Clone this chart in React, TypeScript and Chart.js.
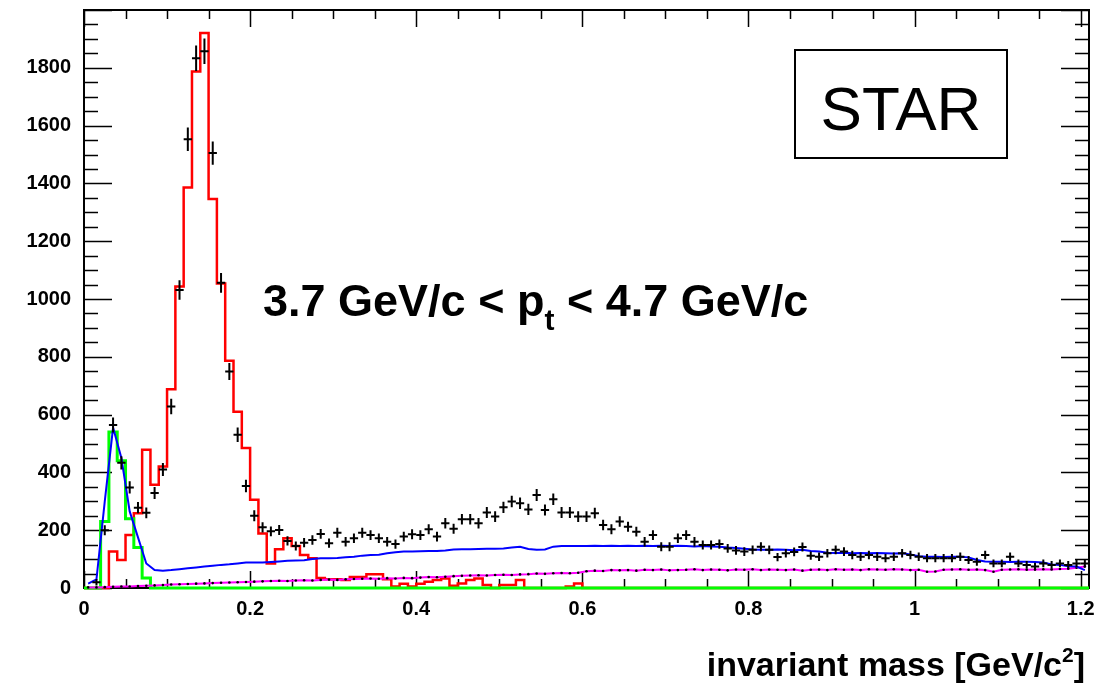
import React, { useEffect, useRef } from 'react';
import { Chart, registerables } from 'chart.js';

Chart.register(...registerables);

// ---- axis ranges / ticks ----
const BIN_WIDTH = 0.01;
const X_MIN = 0;
const X_MAX = 1.21;
const Y_MIN = 0;
const Y_MAX = 2000;
const X_MAJOR = 0.2;
const X_MINOR = 0.05;
const Y_MAJOR = 200;
const Y_MINOR = 50;

// ---- data (121 bins of 0.01 GeV/c^2) ----
// measured invariant-mass distribution (black crosses)
const dataCounts: (number | null)[] = [
  null, 20, 200, 564, 433, 348, 278, 260, 329, 410,
  628, 1031, 1553, 1833, 1857, 1505, 1056, 749, 530, 353,
  250, 210, 196, 201, 163, 145, 157, 166, 187, 155,
  191, 160, 172, 191, 183, 172, 160, 152, 178, 186,
  183, 203, 178, 224, 205, 238, 238, 224, 261, 247,
  279, 299, 293, 272, 322, 270, 307, 261, 261, 247,
  247, 259, 218, 203, 230, 212, 195, 160, 183, 143,
  143, 172, 183, 160, 149, 149, 152, 137, 130, 126,
  132, 143, 132, 107, 120, 125, 142, 112, 108, 120,
  132, 126, 114, 108, 114, 108, 103, 108, 120, 114,
  108, 103, 103, 103, 103, 108, 97, 91, 114, 85,
  85, 108, 85, 80, 74, 85, 80, 85, 80, 85,
  85,
];

// red histogram
const redHist: number[] = [
  0, 0, 0, 126, 97, 183, 259, 478, 357, 420,
  688, 1043, 1386, 1787, 1920, 1346, 1054, 786, 610, 484,
  305, 189, 85, 134, 172, 145, 114, 103, 35, 30,
  30, 28, 38, 38, 48, 48, 30, 5, 15, 5,
  15, 22, 28, 33, 8, 16, 28, 33, 10, 0,
  10, 10, 28, 0, 0, 0, 0, 0, 5, 16,
  0, 0, 0, 0, 0, 0, 0, 0, 0, 0,
  0, 0, 0, 0, 0, 0, 0, 0, 0, 0,
  0, 0, 0, 0, 0, 0, 0, 0, 0, 0,
  0, 0, 0, 0, 0, 0, 0, 0, 0, 0,
  0, 0, 0, 0, 0, 0, 0, 0, 0, 0,
  0, 0, 0, 0, 0, 0, 0, 0, 0, 0,
  0,
];

// green histogram
const greenHist: number[] = [
  0, 0, 230, 540, 440, 240, 140, 35, 0, 0,
  0, 0, 0, 0, 0, 0, 0, 0, 0, 0,
  0, 0, 0, 0, 0, 0, 0, 0, 0, 0,
  0, 0, 0, 0, 0, 0, 0, 0, 0, 0,
  0, 0, 0, 0, 0, 0, 0, 0, 0, 0,
  0, 0, 0, 0, 0, 0, 0, 0, 0, 0,
  0, 0, 0, 0, 0, 0, 0, 0, 0, 0,
  0, 0, 0, 0, 0, 0, 0, 0, 0, 0,
  0, 0, 0, 0, 0, 0, 0, 0, 0, 0,
  0, 0, 0, 0, 0, 0, 0, 0, 0, 0,
  0, 0, 0, 0, 0, 0, 0, 0, 0, 0,
  0, 0, 0, 0, 0, 0, 0, 0, 0, 0,
  0,
];

// blue curve
const blueCurve: number[] = [
  15, 30, 300, 555, 450, 265, 175, 85, 62, 60,
  62, 65, 68, 71, 74, 77, 80, 82, 85, 88,
  88, 88, 90, 92, 94, 95, 96, 100, 103, 103,
  104, 106, 108, 112, 114, 115, 120, 124, 126, 126,
  127, 128, 128, 130, 133, 134, 134, 135, 136, 136,
  137, 140, 143, 135, 132, 133, 143, 145, 145, 145,
  145, 146, 145, 146, 145, 146, 145, 146, 145, 146,
  145, 146, 145, 144, 145, 144, 143, 140, 138, 136,
  133, 132, 132, 133, 132, 131, 132, 128, 126, 122,
  121, 122, 120, 121, 120, 121, 120, 119, 120, 116,
  110, 108, 108, 107, 108, 108, 106, 97, 92, 91,
  91, 90, 91, 91, 90, 88, 81, 80, 75, 74,
  62,
];

// magenta curve
const magentaCurve: number[] = [
  2, 2, 3, 4, 5, 5, 7, 8, 9, 10,
  12, 13, 14, 15, 16, 17, 18, 19, 20, 21,
  22, 23, 24, 25, 24, 26, 27, 26, 28, 29,
  28, 30, 31, 32, 33, 32, 34, 33, 35, 34,
  36, 38, 37, 39, 41, 42, 43, 44, 43, 45,
  46, 45, 47, 48, 50, 49, 51, 52, 51, 53,
  58, 60, 59, 62, 61, 62, 60, 63, 62, 64,
  61, 62, 63, 65, 62, 64, 63, 61, 64, 63,
  65, 62, 64, 63, 62, 64, 60, 63, 64, 62,
  65, 63, 64, 62, 65, 64, 63, 65, 64, 62,
  63, 56, 57, 63, 64, 65, 63, 64, 62, 56,
  63, 64, 65, 63, 64, 65, 64, 66, 67, 70,
  74,
];

const FONT = 'Liberation Sans';

const stepPoints = (vals: number[]) => {
  const pts = vals.map((v, i) => ({ x: i * BIN_WIDTH, y: v }));
  pts.push({ x: vals.length * BIN_WIDTH, y: vals[vals.length - 1] });
  return pts;
};
const centerPoints = (vals: number[]) =>
  vals.map((v, i) => ({ x: (i + 0.5) * BIN_WIDTH, y: v }));

const framePlugin = {
  id: 'rootFrame',
  beforeDatasetsDraw(chart: any) {
    const { ctx, chartArea: a, scales } = chart;
    const xs = scales.x;
    const ys = scales.y;
    ctx.save();
    ctx.strokeStyle = '#000';
    ctx.lineWidth = 1.5;
    // x ticks (bottom and top, pointing inwards)
    const nx = Math.round((X_MAX - X_MIN) / X_MINOR + 1e-6);
    for (let k = 0; k <= nx; k++) {
      const v = X_MIN + k * X_MINOR;
      if (v > X_MAX + 1e-9) break;
      const px = Math.round(xs.getPixelForValue(v)) + 0.5;
      const major = k % Math.round(X_MAJOR / X_MINOR) === 0;
      const len = major ? 17 : 9;
      ctx.beginPath();
      ctx.moveTo(px, a.bottom);
      ctx.lineTo(px, a.bottom - len);
      ctx.moveTo(px, a.top);
      ctx.lineTo(px, a.top + len);
      ctx.stroke();
    }
    const ny = Math.round((Y_MAX - Y_MIN) / Y_MINOR);
    for (let k = 0; k <= ny; k++) {
      const v = Y_MIN + k * Y_MINOR;
      const py = Math.round(ys.getPixelForValue(v)) + 0.5;
      const major = k % Math.round(Y_MAJOR / Y_MINOR) === 0;
      const len = major ? 28 : 14;
      ctx.beginPath();
      ctx.moveTo(a.left, py);
      ctx.lineTo(a.left + len, py);
      ctx.moveTo(a.right, py);
      ctx.lineTo(a.right - len, py);
      ctx.stroke();
    }
    ctx.lineWidth = 2;
    ctx.strokeRect(a.left, a.top, a.right - a.left, a.bottom - a.top);
    ctx.restore();
  },
  afterDatasetsDraw(chart: any) {
    const { ctx, scales } = chart;
    const xs = scales.x;
    const ys = scales.y;
    ctx.save();
    ctx.strokeStyle = '#000';
    ctx.lineWidth = 2;
    dataCounts.forEach((v, i) => {
      if (v == null) return;
      const err = Math.sqrt(v + 100);
      const xl = xs.getPixelForValue(i * BIN_WIDTH);
      const xr = xs.getPixelForValue((i + 1) * BIN_WIDTH);
      const cx = xs.getPixelForValue((i + 0.5) * BIN_WIDTH);
      const cy = ys.getPixelForValue(v);
      const yt = ys.getPixelForValue(v + err);
      const yb = ys.getPixelForValue(Math.max(0, v - err));
      ctx.beginPath();
      ctx.moveTo(xl, cy);
      ctx.lineTo(xr, cy);
      ctx.moveTo(cx, yt);
      ctx.lineTo(cx, yb);
      ctx.stroke();
    });
    ctx.restore();
  },
  afterDraw(chart: any) {
    const { ctx } = chart;
    ctx.save();
    ctx.fillStyle = '#000';
    ctx.textBaseline = 'alphabetic';
    // kinematic range label
    ctx.textAlign = 'left';
    let x = 263;
    const base = 316;
    const parts: [string, number, number][] = [
      ['3.7 GeV/c < p', 45, 0],
      ['t', 30, 14],
      [' < 4.7 GeV/c', 45, 0],
    ];
    for (const [t, size, dy] of parts) {
      ctx.font = `bold ${size}px "${FONT}"`;
      ctx.fillText(t, x, base + dy);
      x += ctx.measureText(t).width;
    }
    // STAR box
    ctx.fillStyle = '#fff';
    ctx.fillRect(795, 50, 212, 108);
    ctx.strokeStyle = '#000';
    ctx.lineWidth = 2;
    ctx.strokeRect(795, 50, 212, 108);
    ctx.fillStyle = '#000';
    ctx.font = `62px "${FONT}"`;
    ctx.textAlign = 'center';
    ctx.fillText('STAR', 901, 130);
    // axis title (right aligned)
    const titleParts: [string, number, number][] = [
      ['invariant mass [GeV/c', 34, 0],
      ['2', 21, -14],
      [']', 34, 0],
    ];
    let total = 0;
    for (const [t, size] of titleParts) {
      ctx.font = `bold ${size}px "${FONT}"`;
      total += ctx.measureText(t).width;
    }
    x = 1085 - total;
    ctx.textAlign = 'left';
    for (const [t, size, dy] of titleParts) {
      ctx.font = `bold ${size}px "${FONT}"`;
      ctx.fillText(t, x, 676 + dy);
      x += ctx.measureText(t).width;
    }
    ctx.restore();
  },
};

export default function App() {
  const canvasRef = useRef<HTMLCanvasElement | null>(null);

  useEffect(() => {
    document.body.style.margin = '0';
    const canvas = canvasRef.current;
    if (!canvas) return;
    const tickFont = { family: FONT, size: 20, weight: 'bold' as const };
    const chart = new Chart(canvas, {
      type: 'scatter',
      data: {
        datasets: [
          {
            label: 'data',
            data: dataCounts.map((v, i) => ({ x: (i + 0.5) * BIN_WIDTH, y: v })) as any,
            showLine: false,
            pointRadius: 0,
            order: 0,
          },
          {
            label: 'blue',
            data: centerPoints(blueCurve),
            showLine: true,
            borderColor: '#0000ff',
            borderWidth: 2,
            pointRadius: 0,
            tension: 0,
            order: 1,
            clip: false as any,
          },
          {
            label: 'magenta',
            data: centerPoints(magentaCurve),
            showLine: true,
            borderColor: '#ff00ff',
            borderWidth: 2,
            pointRadius: 1.3,
            pointBackgroundColor: '#000',
            pointBorderWidth: 0,
            tension: 0,
            order: 2,
            clip: false as any,
          },
          {
            label: 'green',
            data: stepPoints(greenHist),
            showLine: true,
            stepped: 'before',
            borderColor: '#00ff00',
            borderWidth: 3,
            pointRadius: 0,
            order: 3,
            clip: false as any,
          },
          {
            label: 'red',
            data: stepPoints(redHist),
            showLine: true,
            stepped: 'before',
            borderColor: '#ff0000',
            borderWidth: 2.5,
            pointRadius: 0,
            order: 4,
            clip: false as any,
          },
        ],
      },
      options: {
        animation: false,
        responsive: false,
        devicePixelRatio: 1,
        layout: { padding: { top: 10, right: 10, left: 0, bottom: 0 } },
        plugins: { legend: { display: false }, tooltip: { enabled: false } },
        events: [],
        scales: {
          x: {
            type: 'linear',
            min: X_MIN,
            max: X_MAX,
            grid: { display: false, drawTicks: false },
            border: { display: false },
            afterFit: (s: any) => {
              s.height = 102;
              s.paddingLeft = 0;
              s.paddingRight = 0;
            },
            ticks: {
              stepSize: X_MAJOR,
              includeBounds: false,
              autoSkip: false,
              maxRotation: 0,
              padding: 9,
              color: '#000',
              font: tickFont,
              callback: (v: any) => String(Math.round(Number(v) * 10) / 10),
            },
          },
          y: {
            type: 'linear',
            min: Y_MIN,
            max: Y_MAX,
            grid: { display: false, drawTicks: false },
            border: { display: false },
            afterFit: (s: any) => {
              s.width = 84;
              s.paddingTop = 0;
              s.paddingBottom = 0;
            },
            ticks: {
              stepSize: Y_MAJOR,
              autoSkip: false,
              padding: 13,
              color: '#000',
              font: tickFont,
              callback: (v: any) => (Number(v) >= Y_MAX ? '' : String(v)),
            },
          },
        },
      },
      plugins: [framePlugin],
    });
    return () => chart.destroy();
  }, []);

  return (
    <div style={{ width: 1099, height: 690 }}>
      <canvas ref={canvasRef} width={1099} height={690} style={{ display: 'block' }} />
    </div>
  );
}
